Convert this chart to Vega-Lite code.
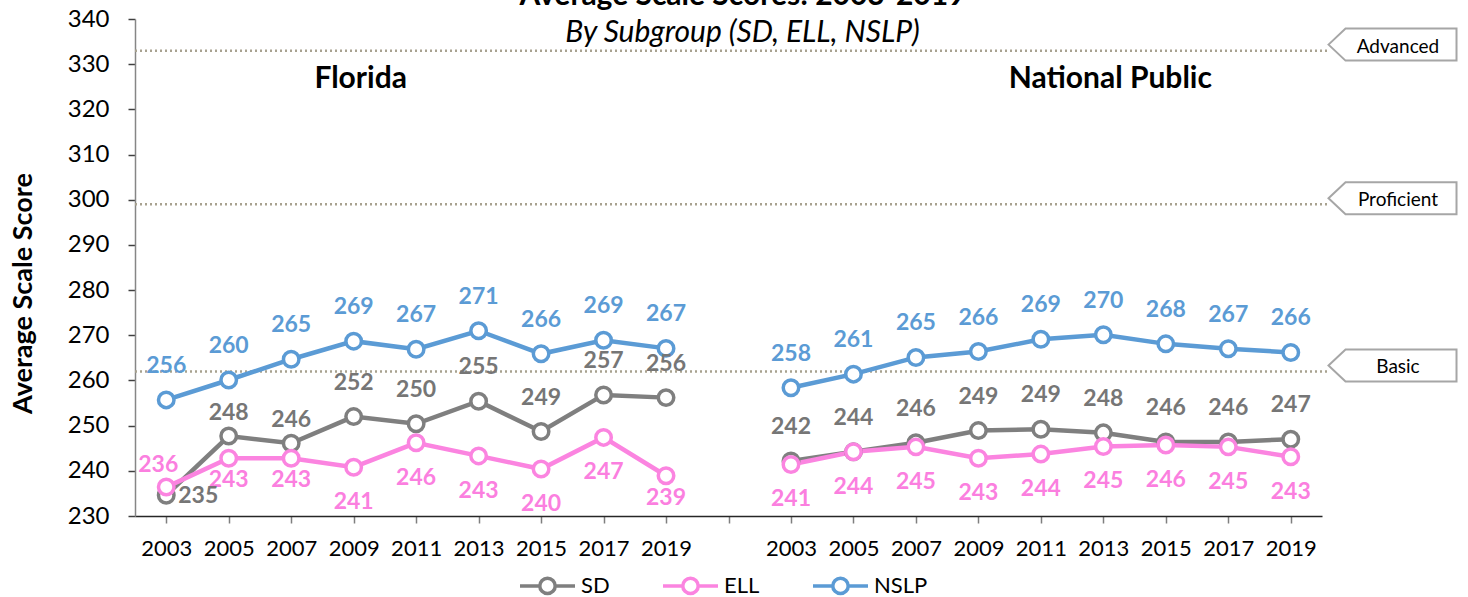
{
  "$schema": "https://vega.github.io/schema/vega-lite/v6.json",
  "width": 1187,
  "height": 497,
  "autosize": {"type": "none"},
  "padding": {"left": 135, "top": 19, "right": 146, "bottom": 81},
  "background": "white",
  "title": {
    "text": "Average Scale Scores: 2003-2019",
    "subtitle": "By Subgroup (SD, ELL, NSLP)",
    "font": "Lato", "fontSize": 30, "fontWeight": "bold", "color": "black",
    "subtitleFont": "Lato", "subtitleFontSize": 30, "subtitleFontStyle": "italic", "subtitleColor": "black",
    "anchor": "middle", "frame": "group", "offset": -41, "subtitlePadding": 7, "dx": 14
  },
  "config": {"view": {"stroke": null}, "font": "Lato"},
  "datasets": {
    "scores": [
      {"region": "Florida", "year": "2003", "slot": "Florida 2003", "group": "SD", "score": 234.6},
      {"region": "Florida", "year": "2005", "slot": "Florida 2005", "group": "SD", "score": 247.7},
      {"region": "Florida", "year": "2007", "slot": "Florida 2007", "group": "SD", "score": 246.1},
      {"region": "Florida", "year": "2009", "slot": "Florida 2009", "group": "SD", "score": 252.0},
      {"region": "Florida", "year": "2011", "slot": "Florida 2011", "group": "SD", "score": 250.4},
      {"region": "Florida", "year": "2013", "slot": "Florida 2013", "group": "SD", "score": 255.4},
      {"region": "Florida", "year": "2015", "slot": "Florida 2015", "group": "SD", "score": 248.7},
      {"region": "Florida", "year": "2017", "slot": "Florida 2017", "group": "SD", "score": 256.8},
      {"region": "Florida", "year": "2019", "slot": "Florida 2019", "group": "SD", "score": 256.2},
      {"region": "Florida", "year": "2003", "slot": "Florida 2003", "group": "ELL", "score": 236.4},
      {"region": "Florida", "year": "2005", "slot": "Florida 2005", "group": "ELL", "score": 242.8},
      {"region": "Florida", "year": "2007", "slot": "Florida 2007", "group": "ELL", "score": 242.8},
      {"region": "Florida", "year": "2009", "slot": "Florida 2009", "group": "ELL", "score": 240.8},
      {"region": "Florida", "year": "2011", "slot": "Florida 2011", "group": "ELL", "score": 246.2},
      {"region": "Florida", "year": "2013", "slot": "Florida 2013", "group": "ELL", "score": 243.3},
      {"region": "Florida", "year": "2015", "slot": "Florida 2015", "group": "ELL", "score": 240.4},
      {"region": "Florida", "year": "2017", "slot": "Florida 2017", "group": "ELL", "score": 247.4},
      {"region": "Florida", "year": "2019", "slot": "Florida 2019", "group": "ELL", "score": 238.9},
      {"region": "Florida", "year": "2003", "slot": "Florida 2003", "group": "NSLP", "score": 255.7},
      {"region": "Florida", "year": "2005", "slot": "Florida 2005", "group": "NSLP", "score": 260.1},
      {"region": "Florida", "year": "2007", "slot": "Florida 2007", "group": "NSLP", "score": 264.7},
      {"region": "Florida", "year": "2009", "slot": "Florida 2009", "group": "NSLP", "score": 268.7},
      {"region": "Florida", "year": "2011", "slot": "Florida 2011", "group": "NSLP", "score": 266.9},
      {"region": "Florida", "year": "2013", "slot": "Florida 2013", "group": "NSLP", "score": 271.0},
      {"region": "Florida", "year": "2015", "slot": "Florida 2015", "group": "NSLP", "score": 265.9},
      {"region": "Florida", "year": "2017", "slot": "Florida 2017", "group": "NSLP", "score": 268.9},
      {"region": "Florida", "year": "2019", "slot": "Florida 2019", "group": "NSLP", "score": 267.1},
      {"region": "National Public", "year": "2003", "slot": "National 2003", "group": "SD", "score": 242.2},
      {"region": "National Public", "year": "2005", "slot": "National 2005", "group": "SD", "score": 244.2},
      {"region": "National Public", "year": "2007", "slot": "National 2007", "group": "SD", "score": 246.2},
      {"region": "National Public", "year": "2009", "slot": "National 2009", "group": "SD", "score": 248.9},
      {"region": "National Public", "year": "2011", "slot": "National 2011", "group": "SD", "score": 249.2},
      {"region": "National Public", "year": "2013", "slot": "National 2013", "group": "SD", "score": 248.4},
      {"region": "National Public", "year": "2015", "slot": "National 2015", "group": "SD", "score": 246.4},
      {"region": "National Public", "year": "2017", "slot": "National 2017", "group": "SD", "score": 246.4},
      {"region": "National Public", "year": "2019", "slot": "National 2019", "group": "SD", "score": 247.0},
      {"region": "National Public", "year": "2003", "slot": "National 2003", "group": "ELL", "score": 241.4},
      {"region": "National Public", "year": "2005", "slot": "National 2005", "group": "ELL", "score": 244.2},
      {"region": "National Public", "year": "2007", "slot": "National 2007", "group": "ELL", "score": 245.3},
      {"region": "National Public", "year": "2009", "slot": "National 2009", "group": "ELL", "score": 242.8},
      {"region": "National Public", "year": "2011", "slot": "National 2011", "group": "ELL", "score": 243.7},
      {"region": "National Public", "year": "2013", "slot": "National 2013", "group": "ELL", "score": 245.4},
      {"region": "National Public", "year": "2015", "slot": "National 2015", "group": "ELL", "score": 245.7},
      {"region": "National Public", "year": "2017", "slot": "National 2017", "group": "ELL", "score": 245.3},
      {"region": "National Public", "year": "2019", "slot": "National 2019", "group": "ELL", "score": 243.1},
      {"region": "National Public", "year": "2003", "slot": "National 2003", "group": "NSLP", "score": 258.4},
      {"region": "National Public", "year": "2005", "slot": "National 2005", "group": "NSLP", "score": 261.4},
      {"region": "National Public", "year": "2007", "slot": "National 2007", "group": "NSLP", "score": 265.1},
      {"region": "National Public", "year": "2009", "slot": "National 2009", "group": "NSLP", "score": 266.4},
      {"region": "National Public", "year": "2011", "slot": "National 2011", "group": "NSLP", "score": 269.1},
      {"region": "National Public", "year": "2013", "slot": "National 2013", "group": "NSLP", "score": 270.1},
      {"region": "National Public", "year": "2015", "slot": "National 2015", "group": "NSLP", "score": 268.1},
      {"region": "National Public", "year": "2017", "slot": "National 2017", "group": "NSLP", "score": 267.0},
      {"region": "National Public", "year": "2019", "slot": "National 2019", "group": "NSLP", "score": 266.2}
    ],
    "levels": [
      {"level": "Advanced", "score": 333},
      {"level": "Proficient", "score": 299},
      {"level": "Basic", "score": 262}
    ],
    "regions": [
      {"region": "Florida", "slot": "Florida 2009"},
      {"region": "National Public", "slot": "National 2013"}
    ]
  },
  "layer": [
    {
      "data": {"name": "levels"},
      "layer": [
        {
          "mark": {"type": "rule", "strokeDash": [2, 3], "strokeWidth": 2.5, "color": "#a8a290"},
          "encoding": {
            "x": {"datum": 0, "type": "quantitative", "scale": {"domain": [0, 1], "nice": false, "zero": false}, "axis": null},
            "x2": {"datum": 1.005},
            "y": {"field": "score", "type": "quantitative", "scale": {"domain": [230, 340], "nice": false, "zero": false}}
          }
        },
        {
          "mark": {"type": "point", "shape": "M -1 -0.094 L -0.734 -0.344 L 1 -0.344 L 1 0.156 L -0.734 0.156 Z", "size": 16384, "filled": true, "fill": "white", "stroke": "#a6a6a6", "strokeWidth": 2, "opacity": 1},
          "encoding": {
            "x": {"datum": 1.0594, "type": "quantitative"},
            "y": {"field": "score", "type": "quantitative"}
          }
        },
        {
          "mark": {"type": "text", "fontSize": 19, "color": "black", "dy": -4, "font": "Lato"},
          "encoding": {
            "x": {"datum": 1.064, "type": "quantitative"},
            "y": {"field": "score", "type": "quantitative"},
            "text": {"field": "level"}
          }
        }
      ]
    },
    {
      "layer": [
        {
          "data": {"name": "scores"},
          "mark": {"type": "line", "strokeWidth": 4.5},
          "encoding": {
            "x": {
              "field": "slot", "type": "ordinal",
              "scale": {"type": "point", "padding": 0.5, "domain": ["Florida 2003", "Florida 2005", "Florida 2007", "Florida 2009", "Florida 2011", "Florida 2013", "Florida 2015", "Florida 2017", "Florida 2019", "gap", "National 2003", "National 2005", "National 2007", "National 2009", "National 2011", "National 2013", "National 2015", "National 2017", "National 2019"]},
              "axis": {"orient": "bottom", "title": null, "labelExpr": "datum.value == 'gap' ? '' : slice(datum.value, -4)", "labelAngle": 0, "labelFontSize": 22, "labelColor": "black", "labelPadding": 15, "tickSize": 7, "tickColor": "#7f7f7f", "tickWidth": 1.5, "domainColor": "#262626", "domainWidth": 1.5, "grid": false}
            },
            "y": {
              "field": "score", "type": "quantitative",
              "scale": {"domain": [230, 340], "nice": false, "zero": false},
              "axis": {"title": "Average Scale Score", "titleFontSize": 27, "titleFontWeight": "bold", "titleColor": "black", "titleX": -112, "titleY": 274, "titleAlign": "center", "titleBaseline": "middle", "titleAngle": -90, "labelFontSize": 24, "labelColor": "black", "labelPadding": 19, "tickSize": 7, "tickColor": "#404040", "tickWidth": 1.5, "domainColor": "#868686", "domainWidth": 1.5, "values": [230, 240, 250, 260, 270, 280, 290, 300, 310, 320, 330, 340], "grid": false}
            },
            "stroke": {"field": "group", "type": "nominal", "scale": {"domain": ["SD", "ELL", "NSLP"], "range": ["#7f7f7f", "#fb84e0", "#5b9bd5"]},
              "legend": {"title": null, "orient": "none", "legendX": 383, "legendY": 537, "direction": "horizontal", "symbolType": "M -1 0 L -0.28 0 M 0.28 0 L 1 0 M 0.28 0 A 0.28 0.28 0 1 1 -0.28 0 A 0.28 0.28 0 1 1 0.28 0", "symbolSize": 3025, "symbolStrokeWidth": 3.5, "symbolFillColor": "white", "labelFontSize": 22, "labelColor": "black", "labelOffset": 4, "columnPadding": 46, "padding": 0}},
            "detail": {"field": "region"}
          }
        },
        {
          "data": {"name": "scores"},
          "mark": {"type": "point", "filled": false, "fill": "white", "size": 240, "strokeWidth": 3.5, "opacity": 1},
          "encoding": {
            "x": {"field": "slot", "type": "ordinal"},
            "y": {"field": "score", "type": "quantitative"},
            "stroke": {"field": "group", "type": "nominal"}
          }
        },
        {
          "data": {"name": "scores"},
          "transform": [{"filter": "datum.group == 'NSLP'"}],
          "mark": {"type": "text", "fontSize": 23, "fontWeight": "bold", "dy": -34, "color": "#5b9bd5"},
          "encoding": {
            "x": {"field": "slot", "type": "ordinal"},
            "y": {"field": "score", "type": "quantitative"},
            "text": {"field": "score", "type": "quantitative", "format": ".0f"}
          }
        },
        {
          "data": {"name": "scores"},
          "transform": [{"filter": "datum.group == 'SD' && !(datum.region == 'Florida' && (datum.year == '2003' || datum.year == '2005' || datum.year == '2007'))"}],
          "mark": {"type": "text", "fontSize": 23, "fontWeight": "bold", "dy": -34, "color": "#767676"},
          "encoding": {
            "x": {"field": "slot", "type": "ordinal"},
            "y": {"field": "score", "type": "quantitative"},
            "text": {"field": "score", "type": "quantitative", "format": ".0f"}
          }
        },
        {
          "data": {"name": "scores"},
          "transform": [{"filter": "datum.group == 'SD' && datum.region == 'Florida' && (datum.year == '2005' || datum.year == '2007')"}],
          "mark": {"type": "text", "fontSize": 23, "fontWeight": "bold", "dy": -23, "color": "#767676"},
          "encoding": {
            "x": {"field": "slot", "type": "ordinal"},
            "y": {"field": "score", "type": "quantitative"},
            "text": {"field": "score", "type": "quantitative", "format": ".0f"}
          }
        },
        {
          "data": {"name": "scores"},
          "transform": [{"filter": "datum.group == 'ELL' && !(datum.region == 'Florida' && (datum.year == '2003' || datum.year == '2005' || datum.year == '2007' || datum.year == '2019'))"}],
          "mark": {"type": "text", "fontSize": 23, "fontWeight": "bold", "dy": 35, "color": "#fb7fdf"},
          "encoding": {
            "x": {"field": "slot", "type": "ordinal"},
            "y": {"field": "score", "type": "quantitative"},
            "text": {"field": "score", "type": "quantitative", "format": ".0f"}
          }
        },
        {
          "data": {"name": "scores"},
          "transform": [{"filter": "datum.group == 'ELL' && datum.region == 'Florida' && (datum.year == '2005' || datum.year == '2007' || datum.year == '2019')"}],
          "mark": {"type": "text", "fontSize": 23, "fontWeight": "bold", "dy": 22, "color": "#fb7fdf"},
          "encoding": {
            "x": {"field": "slot", "type": "ordinal"},
            "y": {"field": "score", "type": "quantitative"},
            "text": {"field": "score", "type": "quantitative", "format": ".0f"}
          }
        },
        {
          "data": {"name": "scores"},
          "transform": [{"filter": "datum.group == 'SD' && datum.region == 'Florida' && datum.year == '2003'"}],
          "mark": {"type": "text", "fontSize": 23, "fontWeight": "bold", "dx": 32, "dy": 1, "color": "#767676"},
          "encoding": {
            "x": {"field": "slot", "type": "ordinal"},
            "y": {"field": "score", "type": "quantitative"},
            "text": {"field": "score", "type": "quantitative", "format": ".0f"}
          }
        },
        {
          "data": {"name": "scores"},
          "transform": [{"filter": "datum.group == 'ELL' && datum.region == 'Florida' && datum.year == '2003'"}],
          "mark": {"type": "text", "fontSize": 23, "fontWeight": "bold", "dx": -8, "dy": -22, "color": "#fb7fdf"},
          "encoding": {
            "x": {"field": "slot", "type": "ordinal"},
            "y": {"field": "score", "type": "quantitative"},
            "text": {"field": "score", "type": "quantitative", "format": ".0f"}
          }
        },
        {
          "data": {"name": "regions"},
          "mark": {"type": "text", "fontSize": 30, "fontWeight": "bold", "color": "black", "dx": 7},
          "encoding": {
            "x": {"field": "slot", "type": "ordinal"},
            "y": {"datum": 326.7, "type": "quantitative"},
            "text": {"field": "region"}
          }
        }
      ]
    }
  ],
  "resolve": {"scale": {"x": "independent"}}
}
